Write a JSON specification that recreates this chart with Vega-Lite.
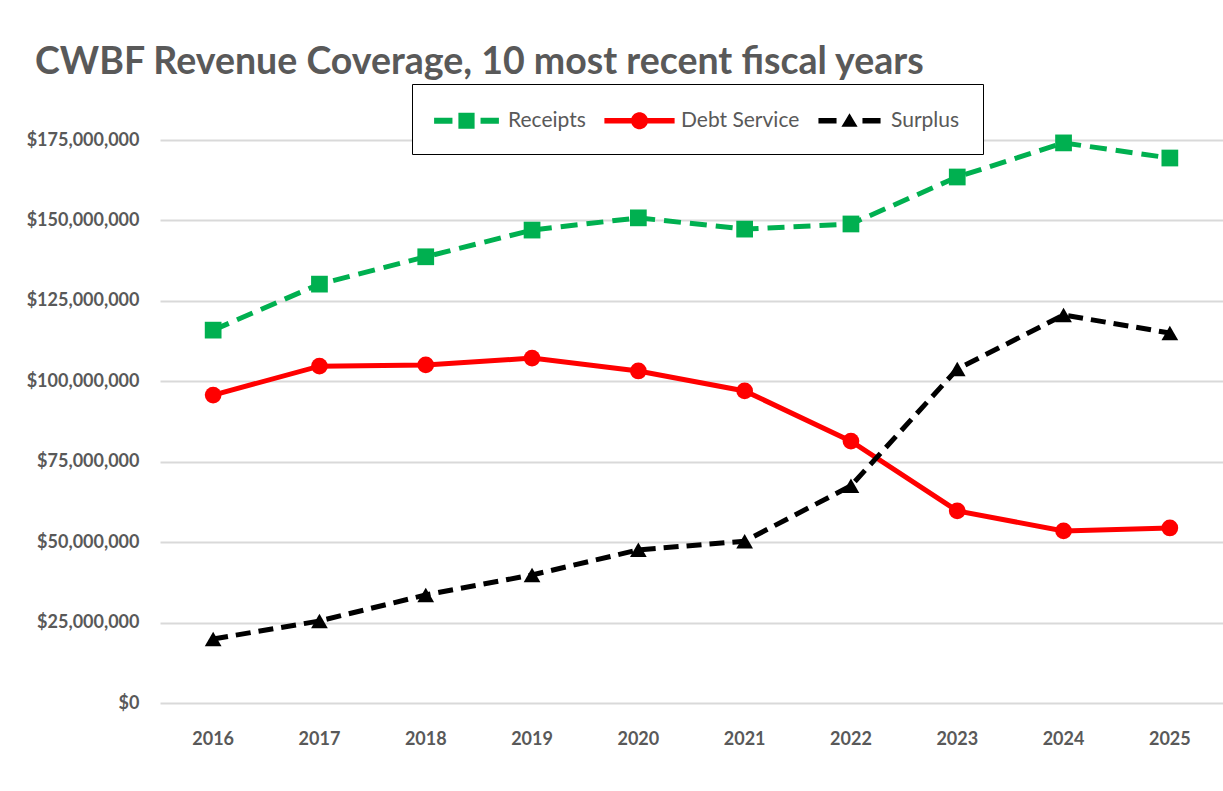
{
  "$schema": "https://vega.github.io/schema/vega-lite/v6.json",
  "width": 1063,
  "height": 563,
  "autosize": {"type": "none"},
  "padding": {"left": 160, "top": 140, "right": 0, "bottom": 88},
  "background": "white",
  "title": {
    "text": "CWBF Revenue Coverage, 10 most recent fiscal years",
    "anchor": "start",
    "frame": "group",
    "dx": -125,
    "dy": 2,
    "font": "Lato",
    "fontSize": 37.5,
    "fontWeight": "bold",
    "color": "#595959"
  },
  "data": {
    "values": [
      {"year": "2016", "series": "Receipts", "value": 115900000},
      {"year": "2017", "series": "Receipts", "value": 130200000},
      {"year": "2018", "series": "Receipts", "value": 138700000},
      {"year": "2019", "series": "Receipts", "value": 147000000},
      {"year": "2020", "series": "Receipts", "value": 150800000},
      {"year": "2021", "series": "Receipts", "value": 147300000},
      {"year": "2022", "series": "Receipts", "value": 148900000},
      {"year": "2023", "series": "Receipts", "value": 163500000},
      {"year": "2024", "series": "Receipts", "value": 174100000},
      {"year": "2025", "series": "Receipts", "value": 169400000},
      {"year": "2016", "series": "Debt Service", "value": 95700000},
      {"year": "2017", "series": "Debt Service", "value": 104700000},
      {"year": "2018", "series": "Debt Service", "value": 105100000},
      {"year": "2019", "series": "Debt Service", "value": 107200000},
      {"year": "2020", "series": "Debt Service", "value": 103200000},
      {"year": "2021", "series": "Debt Service", "value": 97000000},
      {"year": "2022", "series": "Debt Service", "value": 81400000},
      {"year": "2023", "series": "Debt Service", "value": 59700000},
      {"year": "2024", "series": "Debt Service", "value": 53500000},
      {"year": "2025", "series": "Debt Service", "value": 54400000},
      {"year": "2016", "series": "Surplus", "value": 19900000},
      {"year": "2017", "series": "Surplus", "value": 25500000},
      {"year": "2018", "series": "Surplus", "value": 33600000},
      {"year": "2019", "series": "Surplus", "value": 39800000},
      {"year": "2020", "series": "Surplus", "value": 47600000},
      {"year": "2021", "series": "Surplus", "value": 50300000},
      {"year": "2022", "series": "Surplus", "value": 67500000},
      {"year": "2023", "series": "Surplus", "value": 103800000},
      {"year": "2024", "series": "Surplus", "value": 120600000},
      {"year": "2025", "series": "Surplus", "value": 115000000}
    ]
  },
  "encoding": {
    "x": {
      "field": "year",
      "type": "ordinal",
      "scale": {"type": "band", "paddingInner": 0, "paddingOuter": 0},
      "axis": {
        "title": null,
        "labelAngle": 0,
        "domain": false,
        "ticks": false,
        "grid": false,
        "labelFont": "Lato",
        "labelFontSize": 18,
        "labelFontWeight": "bold",
        "labelColor": "#595959",
        "labelPadding": 27
      }
    },
    "y": {
      "field": "value",
      "type": "quantitative",
      "scale": {"domain": [0, 175000000], "nice": false},
      "axis": {
        "title": null,
        "values": [0, 25000000, 50000000, 75000000, 100000000, 125000000, 150000000, 175000000],
        "format": "$,.0f",
        "domain": false,
        "ticks": false,
        "grid": true,
        "gridColor": "#d9d9d9",
        "gridWidth": 2,
        "labelFont": "Lato",
        "labelFontSize": 18,
        "labelFontWeight": "bold",
        "labelColor": "#595959",
        "labelPadding": 21
      }
    },
    "color": {
      "field": "series",
      "type": "nominal",
      "scale": {
        "domain": ["Receipts", "Debt Service", "Surplus"],
        "range": ["#00B050", "#FF0000", "#000000"]
      },
      "legend": {
        "orient": "none",
        "legendX": 252,
        "legendY": -56,
        "direction": "horizontal",
        "title": null,
        "strokeColor": "#000000",
        "fillColor": "#ffffff",
        "padding": 23,
        "columnPadding": 18,
        "labelFont": "Lato",
        "labelFontSize": 21,
        "labelColor": "#595959",
        "symbolSize": 729,
        "symbolStrokeWidth": 0,
        "symbolOffset": 18,
        "labelOffset": 28,
        "encode": {
          "symbols": {
            "update": {
              "shape": {"signal": "datum.value === 'Receipts' ? 'M-2.4,-0.22L-1.04,-0.22L-1.04,0L-0.6,0L-0.6,-0.6L0.6,-0.6L0.6,0L1.04,0L1.04,-0.22L2.4,-0.22L2.4,0.22L1.04,0.22L1.04,0L0.6,0L0.6,0.6L-0.6,0.6L-0.6,0L-1.04,0L-1.04,0.22L-2.4,0.22Z' : datum.value === 'Debt Service' ? 'M-2.6,-0.2L-0.597,-0.2A0.63,0.63,0,0,1,0.597,-0.2L2.6,-0.2L2.6,0.2L0.597,0.2A0.63,0.63,0,0,1,-0.597,0.2L-2.6,0.2Z' : 'M-2.3,-0.2L-0.96,-0.2L-0.96,0L-0.33,0L0,-0.55L0.33,0L0.96,0L0.96,-0.2L2.3,-0.2L2.3,0.2L0.96,0.2L0.96,0L0.33,0L0.6,0.45L-0.6,0.45L-0.33,0L-0.96,0L-0.96,0.2L-2.3,0.2Z'"},
              "size": {"value": 729},
              "strokeWidth": {"value": 0},
              "fillOpacity": {"value": 1},
              "opacity": {"value": 1}
            }
          }
        }
      }
    }
  },
  "layer": [
    {
      "transform": [{"filter": "datum.series === 'Receipts'"}],
      "mark": {"type": "line", "strokeWidth": 5, "strokeDash": [17, 9]}
    },
    {
      "transform": [{"filter": "datum.series === 'Debt Service'"}],
      "mark": {"type": "line", "strokeWidth": 5}
    },
    {
      "transform": [{"filter": "datum.series === 'Surplus'"}],
      "mark": {"type": "line", "strokeWidth": 5, "strokeDash": [15, 8]}
    },
    {
      "transform": [{"filter": "datum.series === 'Receipts'"}],
      "mark": {"type": "point", "shape": "square", "filled": true, "opacity": 1, "size": 280}
    },
    {
      "transform": [{"filter": "datum.series === 'Debt Service'"}],
      "mark": {"type": "point", "shape": "circle", "filled": true, "opacity": 1, "size": 280}
    },
    {
      "transform": [{"filter": "datum.series === 'Surplus'"}],
      "mark": {"type": "point", "shape": "triangle-up", "filled": true, "opacity": 1, "size": 280}
    }
  ],
  "config": {"view": {"stroke": null}}
}
